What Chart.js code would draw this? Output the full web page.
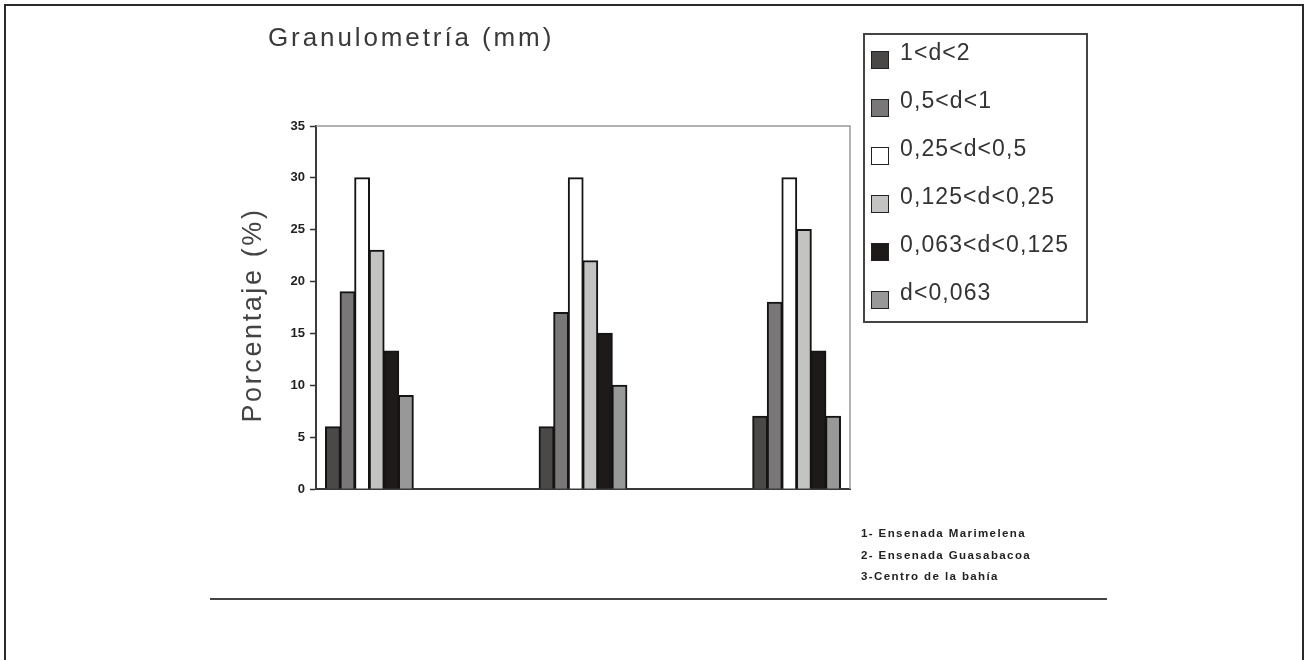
<!DOCTYPE html>
<html lang="es">
<head>
<meta charset="utf-8">
<title>Granulometría (mm)</title>
<script src="https://cdn.jsdelivr.net/npm/chart.js@4.4.1/dist/chart.umd.min.js"></script>
<style>
  html, body { margin: 0; padding: 0; background: #fff; }
  #wrap { position: relative; width: 1306px; height: 660px; overflow: hidden; font-family: "Liberation Sans", Arial, sans-serif; }
  #chart { position: absolute; left: 0; top: 0; }
  .frame { position: absolute; left: 4px; top: 4px; width: 1296px; height: 700px;
           border: 2px solid #2a2a2a; border-bottom: none; }
  .title { position: absolute; left: 268px; top: 22px; font-size: 26px; letter-spacing: 2.9px; color: #3a3a3a; white-space: nowrap; }
  .ytitle { position: absolute; left: 252px; top: 315px; font-size: 27px; letter-spacing: 2.6px; color: #444;
            white-space: nowrap; transform: translate(-50%, -50%) rotate(-90deg); }
  #legend { position: absolute; left: 863px; top: 33px; width: 221px; height: 286px; border: 2px solid #444; }
  #legend .row { position: absolute; left: 6px; height: 30px; white-space: nowrap; }
  #legend .sw { position: absolute; left: 0; top: 12px; width: 16px; height: 16px; border: 1.5px solid #222; }
  #legend .lb { position: absolute; left: 29px; top: 0; font-size: 23px; line-height: 26px; letter-spacing: 1.1px; color: #333; }
  .notes { position: absolute; left: 861px; top: 523px; font-family: "Liberation Sans Narrow", "Liberation Sans", Arial, sans-serif;
           font-weight: bold; font-size: 11.5px; line-height: 21.5px; letter-spacing: 1.4px; color: #222; white-space: nowrap; }
  .rule { position: absolute; left: 210px; top: 598px; width: 897px; height: 2px; background: #444; }
</style>
</head>
<body>
<div id="wrap">
  <canvas id="chart" width="1306" height="660"></canvas>
  <div class="frame"></div>
  <div class="title">Granulometría (mm)</div>
  <div class="ytitle">Porcentaje (%)</div>
  <div id="legend"></div>
  <div class="notes" id="notes"></div>
  <div class="rule"></div>
</div>
<script>
// sampling sites (x positions) and their names
const sites = [1, 2, 3];
const siteNames = ['Ensenada Marimelena', 'Ensenada Guasabacoa', 'Centro de la bahía'];

// grain size classes
const classes = ['1<d<2', '0,5<d<1', '0,25<d<0,5', '0,125<d<0,25', '0,063<d<0,125', 'd<0,063'];
const classColors = ['#4b4848', '#7a7778', '#ffffff', '#c3c3c1', '#1e1a1a', '#999898'];

// percentage per class, one value per site
const d1to2 = [6, 6, 7];
const d05to1 = [19, 17, 18];
const d025to05 = [30, 30, 30];
const d0125to025 = [23, 22, 25];
const d0063to0125 = [13.3, 15, 13.3];
const dUnder0063 = [9, 10, 7];

const yTicks = [0, 5, 10, 15, 20, 25, 30, 35];

const values = [d1to2, d05to1, d025to05, d0125to025, d0063to0125, dUnder0063];

const datasets = classes.map((name, i) => ({
  label: name,
  data: values[i],
  backgroundColor: classColors[i],
  borderColor: '#141414',
  borderWidth: 2,
  borderSkipped: 'bottom',
  inflateAmount: 0.6,
  categoryPercentage: 0.41,
  barPercentage: 1
}));

// light frame on the top and right of the plot area
const plotFrame = {
  id: 'plotFrame',
  beforeDatasetsDraw(chart) {
    const { ctx, chartArea: a } = chart;
    ctx.save();
    ctx.strokeStyle = '#9a9a9a';
    ctx.lineWidth = 1.5;
    ctx.beginPath();
    ctx.moveTo(a.left, a.top);
    ctx.lineTo(a.right, a.top);
    ctx.lineTo(a.right, a.bottom);
    ctx.stroke();
    ctx.restore();
  }
};

// legend box built from the datasets
const htmlLegend = {
  id: 'htmlLegend',
  afterUpdate(chart) {
    const box = document.getElementById('legend');
    box.innerHTML = '';
    chart.data.datasets.forEach((ds, i) => {
      const row = document.createElement('div');
      row.className = 'row';
      row.style.top = (4 + i * 48) + 'px';
      const sw = document.createElement('span');
      sw.className = 'sw';
      sw.style.background = ds.backgroundColor;
      const lb = document.createElement('span');
      lb.className = 'lb';
      lb.textContent = ds.label;
      row.appendChild(sw);
      row.appendChild(lb);
      box.appendChild(row);
    });
  }
};

document.getElementById('notes').innerHTML = sites
  .map((s, i) => s + (i < 2 ? '- ' : '-') + siteNames[i])
  .join('<br>');

new Chart(document.getElementById('chart'), {
  type: 'bar',
  data: { labels: sites, datasets: datasets },
  options: {
    responsive: false,
    animation: false,
    layout: { padding: { left: 270, top: 126, right: 456, bottom: 171 } },
    plugins: {
      legend: { display: false },
      tooltip: { enabled: false }
    },
    scales: {
      x: {
        type: 'linear',
        min: 0.75,
        max: 3.25,
        offset: false,
        afterBuildTicks: (scale) => { scale.ticks = sites.map(v => ({ value: v })); },
        ticks: { display: false },
        grid: { display: false, drawTicks: false },
        border: { color: '#3a3a3a', width: 2 },
        afterFit: (scale) => { scale.height = 0; }
      },
      y: {
        min: 0,
        max: 35,
        afterBuildTicks: (scale) => { scale.ticks = yTicks.map(v => ({ value: v })); },
        ticks: {
          padding: 5,
          color: '#222',
          font: { family: '"Liberation Sans Narrow", "Liberation Sans", Arial', size: 13, weight: 'bold' }
        },
        grid: { drawOnChartArea: false, tickLength: 6, color: '#333', tickWidth: 1.5 },
        border: { color: '#3a3a3a', width: 2 },
        afterFit: (scale) => { scale.width = 46; }
      }
    }
  },
  plugins: [plotFrame, htmlLegend]
});
</script>
</body>
</html>
